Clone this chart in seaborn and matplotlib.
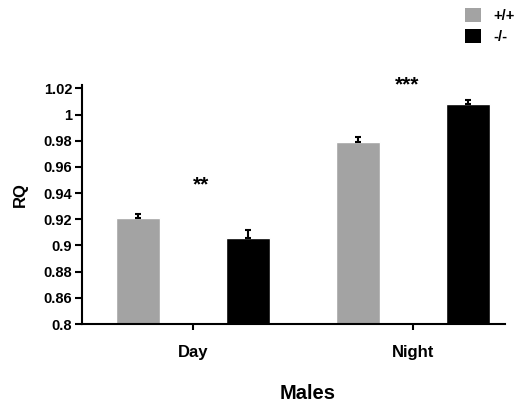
import matplotlib
matplotlib.use("Agg")
import matplotlib.pyplot as plt
from matplotlib.patches import Patch
import seaborn as sns
import pandas as pd
import numpy as np

# ---- data ----
conditions = ["Day", "Night"]
genotypes = ["+/+", "-/-"]
rq_wt = [0.921, 0.979]
rq_ko = [0.906, 1.008]
err_wt = [0.003, 0.004]
err_ko = [0.0055, 0.003]
stars = ["**", "***"]
star_y = [0.946, 1.023]
ytick_vals = [0.84, 0.86, 0.88, 0.90, 0.92, 0.94, 0.96, 0.98, 1.00, 1.02]
ytick_labels = ["0.8", "0.86", "0.88", "0.9", "0.92", "0.94", "0.96", "0.98", "1", "1.02"]

sns.set_style("white")
plt.rcParams["font.family"] = ["Liberation Sans", "DejaVu Sans"]
plt.rcParams["font.weight"] = "bold"
for k in ["text.color", "axes.labelcolor", "xtick.color", "ytick.color"]:
    plt.rcParams[k] = "black"

offset = 0.25
rows = []
for i, c in enumerate(conditions):
    rows.append({"pos": i - offset, "RQ": rq_wt[i], "err": err_wt[i], "genotype": genotypes[0]})
    rows.append({"pos": i + offset, "RQ": rq_ko[i], "err": err_ko[i], "genotype": genotypes[1]})
df = pd.DataFrame(rows)

fig = plt.figure(figsize=(5.17, 4.05), dpi=100)
ax = fig.add_axes([0.1586, 0.2, 0.977 - 0.1586, 0.59])

palette = {"+/+": "#a3a3a3", "-/-": "#000000"}
sns.barplot(data=df, x="pos", y="RQ", hue="genotype", hue_order=genotypes,
            palette=palette, native_scale=True, dodge=False,
            width=0.4, errorbar=None, ax=ax, saturation=1, legend=False)

ax.errorbar(df["pos"], df["RQ"], yerr=[np.zeros(len(df)), df["err"]],
            fmt="none", ecolor="black", elinewidth=1.5, capsize=2.5, capthick=1.5)

ax.set_ylim(0.84, 1.0225)
ax.set_xlim(-0.505, 1.418)
ax.set_yticks(ytick_vals)
ax.set_yticklabels(ytick_labels, fontsize=10.5, fontweight="bold")
ax.set_xticks(range(len(conditions)))
ax.set_xticklabels(conditions, fontsize=12, fontweight="bold")
ax.tick_params(axis="y", direction="out", length=5, width=1.5, color="black",
               labelcolor="black", pad=2, left=True)
ax.tick_params(axis="x", direction="out", length=4, width=1.5, color="black",
               labelcolor="black", pad=11, bottom=True)

for s in ["top", "right"]:
    ax.spines[s].set_visible(False)
for s in ["left", "bottom"]:
    ax.spines[s].set_color("black")
    ax.spines[s].set_linewidth(1.5)

ax.set_ylabel("RQ", fontsize=12, fontweight="bold", color="black")
ax.yaxis.set_label_coords(-0.128, (324 - 195) / 239)
ax.set_xlabel("Males", fontsize=14.5, fontweight="bold", va="center", color="black")
ax.xaxis.set_label_coords((308 - 82) / 423, -(394 - 324) / 239)

star_x = [0.036, 1 - 0.027]
for i, s in enumerate(stars):
    ax.text(star_x[i], star_y[i], s, ha="center", va="center", fontsize=15,
            fontweight="bold", color="black", clip_on=False)

handles = [Patch(facecolor=palette[g], edgecolor="none") for g in genotypes]
fig.legend(handles, genotypes, loc="upper right", bbox_to_anchor=(1.012, 1.002),
           frameon=False, handlelength=1.1, handleheight=1.1, handletextpad=0.8,
           labelspacing=0.45, borderaxespad=0.2, labelcolor="black",
           prop={"weight": "bold", "size": 10.5})

fig.savefig("out.png", dpi=100)
